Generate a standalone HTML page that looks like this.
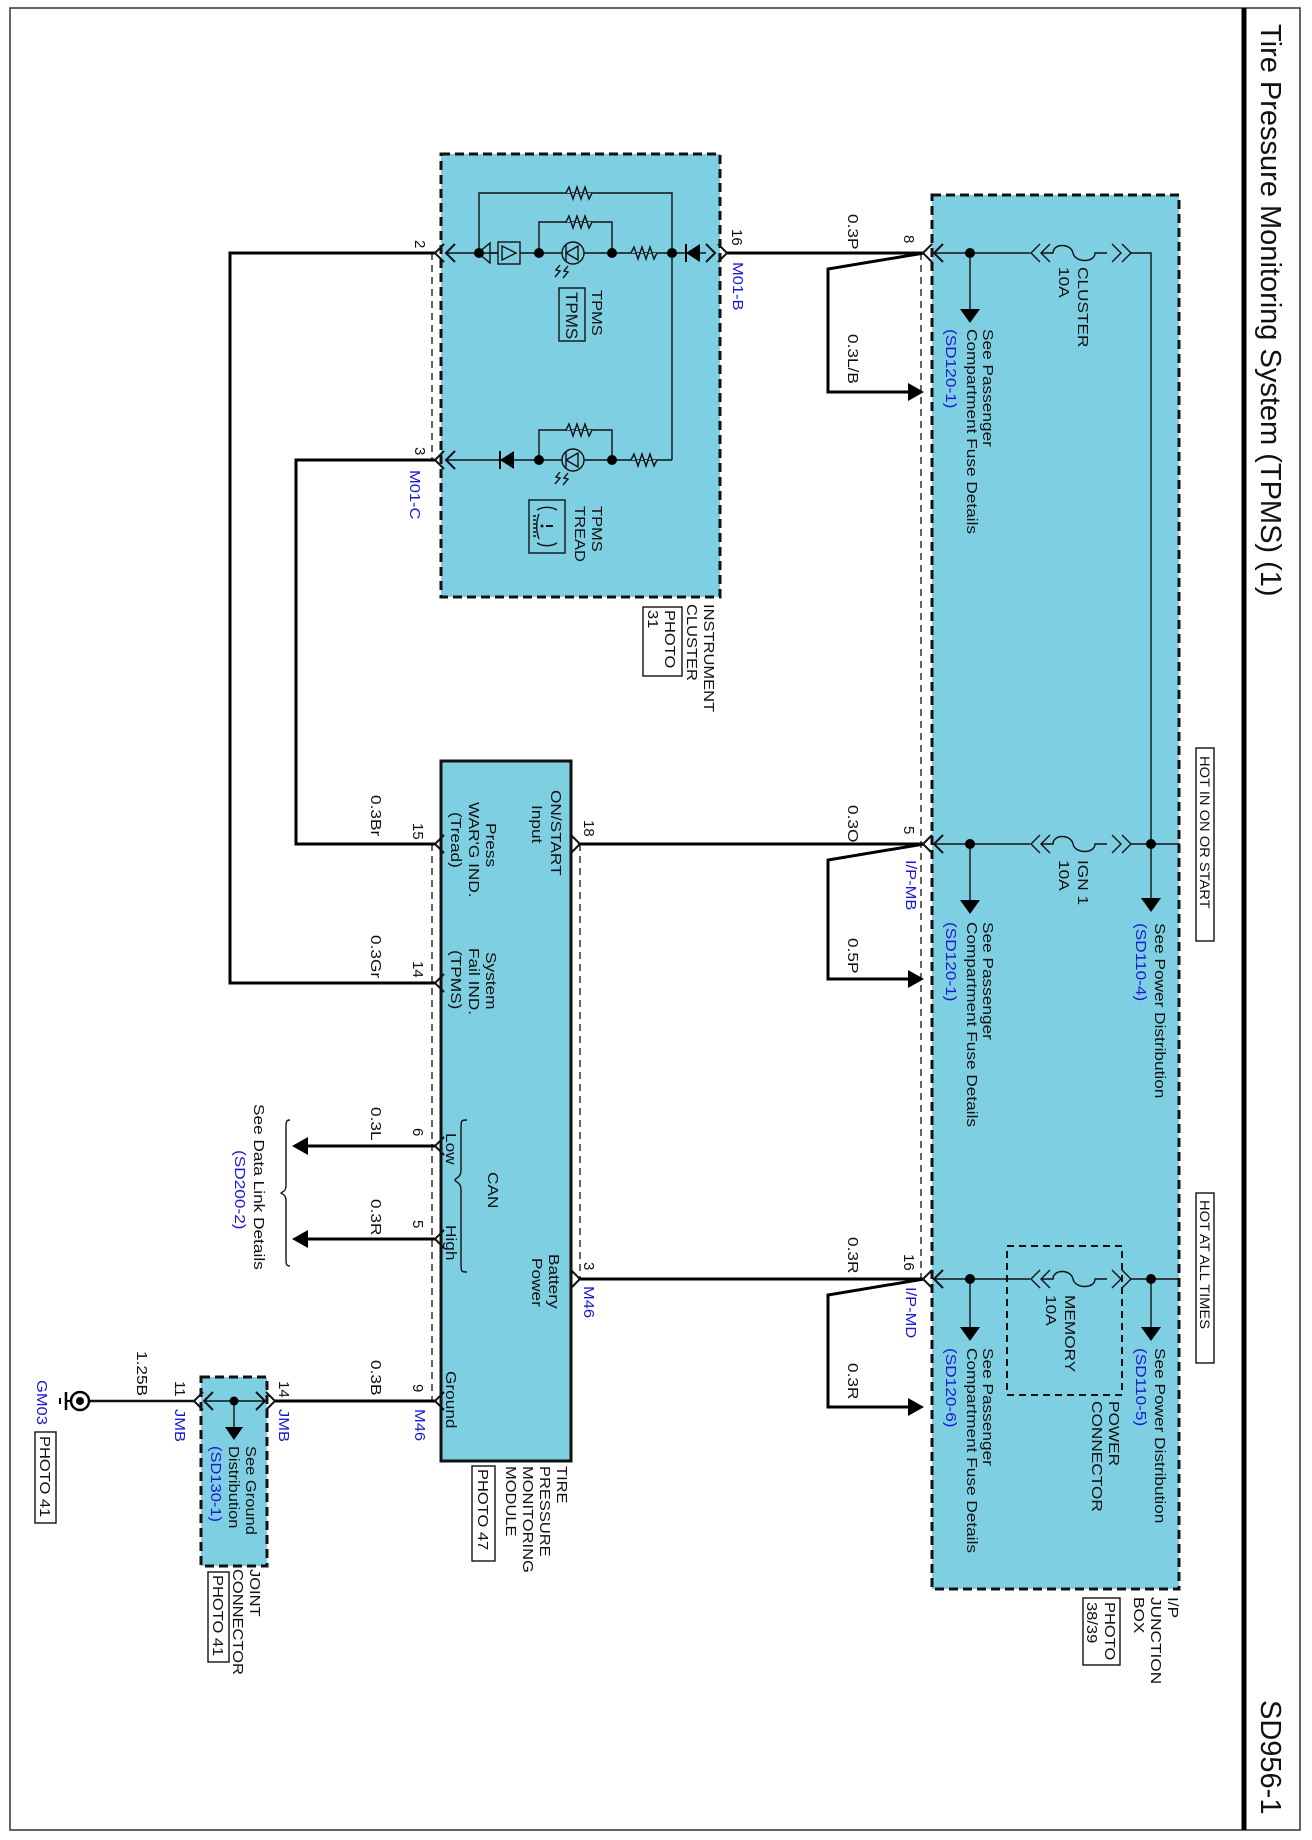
<!DOCTYPE html>
<html><head><meta charset="utf-8"><style>
html,body{margin:0;padding:0;background:#fff}
svg{display:block}
text{font-family:"Liberation Sans",Arial,sans-serif;font-size:15px;fill:#111}
.b{fill:#1a1ad0}
.w{stroke:#000;stroke-width:3;fill:none}
.t{stroke:#111;stroke-width:1.4;fill:none}
.d{stroke:#111;stroke-width:1.3;fill:none;stroke-dasharray:7,5}
.box{fill:#7fcfe3;stroke:#111;stroke-width:3;stroke-dasharray:9,5}
</style></head><body>
<svg width="1312" height="1840" viewBox="0 0 1312 1840" xmlns="http://www.w3.org/2000/svg">
<rect x="10" y="8" width="1290" height="1822" fill="none" stroke="#333" stroke-width="1.5"/>
<line x1="1244" y1="8" x2="1244" y2="1830" stroke="#000" stroke-width="5"/>
<text style="font-size:29px" transform="translate(1261,24) rotate(90)">Tire Pressure Monitoring System (TPMS) (1)</text>
<text style="font-size:29px" transform="translate(1261,1700) rotate(90)">SD956-1</text>

<!-- boxes -->
<rect class="box" x="441" y="154" width="279" height="443"/>
<rect class="box" x="932" y="195" width="247" height="1394"/>
<rect class="box" x="201" y="1377" width="66" height="189"/>
<rect x="441" y="761" width="130" height="700" fill="#7fcfe3" stroke="#111" stroke-width="3"/>
<rect x="1007" y="1246" width="115" height="149" fill="none" stroke="#111" stroke-width="2" stroke-dasharray="7,5"/>

<!-- dashed connector housings -->
<line class="d" x1="921" y1="253" x2="921" y2="1280"/>
<line class="d" x1="432" y1="253" x2="432" y2="460"/>
<line class="d" x1="432" y1="844" x2="432" y2="1402"/>
<line class="d" x1="580" y1="844" x2="580" y2="1279"/>

<!-- main wires -->
<polyline class="w" points="727,253 924,253"/>
<polyline class="w" points="435,253 230,253 230,983 435,983"/>
<polyline class="w" points="435,460 296,460 296,844 435,844"/>
<polyline class="w" points="578,844 924,844"/>
<polyline class="w" points="578,1279 924,1279"/>
<polyline class="w" points="924,253 828,269 828,392 910,392"/>
<polygon points="908,383 924,392 908,401" fill="#000"/>
<polyline class="w" points="924,844 828,860 828,979 910,979"/>
<polygon points="908,970 924,979 908,988" fill="#000"/>
<polyline class="w" points="924,1279 828,1295 828,1407 910,1407"/>
<polygon points="908,1398 924,1407 908,1416" fill="#000"/>
<polyline class="w" points="435,1146 306,1146"/>
<polygon points="308,1137 292,1146 308,1155" fill="#000"/>
<polyline class="w" points="435,1239 306,1239"/>
<polygon points="308,1230 292,1239 308,1248" fill="#000"/>
<polyline class="w" points="435,1401 275,1401"/>
<polyline class="t" points="194,1401 90,1401" style="stroke-width:2.5"/>

<!-- connector chevrons -->
<g class="t" style="stroke-width:2">
<polyline points="932,244 923,253 932,262"/><polyline points="943,244 934,253 943,262"/>
<polyline points="932,835 923,844 932,853"/><polyline points="943,835 934,844 943,853"/>
<polyline points="932,1270 923,1279 932,1288"/><polyline points="943,1270 934,1279 943,1288"/>
<polyline points="718,244 727,253 718,262"/><polyline points="706,244 715,253 706,262"/>
<polyline points="444,244 435,253 444,262"/><polyline points="455,244 446,253 455,262"/>
<polyline points="444,451 435,460 444,469"/><polyline points="455,451 446,460 455,469"/>
<polyline points="444,835 435,844 444,853"/>
<polyline points="444,974 435,983 444,992"/>
<polyline points="444,1137 435,1146 444,1155"/>
<polyline points="444,1230 435,1239 444,1248"/>
<polyline points="444,1392 435,1401 444,1410"/>
<polyline points="571,835 580,844 571,853"/>
<polyline points="571,1270 580,1279 571,1288"/>
<polyline points="266,1392 275,1401 266,1410"/><polyline points="256,1392 265,1401 256,1410"/>
<polyline points="203,1392 194,1401 203,1410"/><polyline points="213,1392 204,1401 213,1410"/>
</g>

<!-- IP box internal -->
<g class="t">
<line x1="934" y1="253" x2="1030" y2="253"/>
<path d="M1040,244 l-9,9 9,9 M1050,244 l-9,9 9,9"/>
<path d="M1041,253 h12 c0,-10 18,-10 20,0 c2,10 22,10 22,0 h12"/>
<path d="M1112,244 l9,9 -9,9 M1122,244 l9,9 -9,9"/>
<polyline points="1131,253 1151,253 1151,900"/>
<line x1="934" y1="844" x2="1030" y2="844"/>
<path d="M1040,835 l-9,9 9,9 M1050,835 l-9,9 9,9"/>
<path d="M1041,844 h12 c0,-10 18,-10 20,0 c2,10 22,10 22,0 h12"/>
<path d="M1112,835 l9,9 -9,9 M1122,835 l9,9 -9,9"/>
<line x1="1131" y1="844" x2="1180" y2="844"/>
<line x1="934" y1="1279" x2="1030" y2="1279"/>
<path d="M1040,1270 l-9,9 9,9 M1050,1270 l-9,9 9,9"/>
<path d="M1041,1279 h12 c0,-10 18,-10 20,0 c2,10 22,10 22,0 h12"/>
<path d="M1112,1270 l9,9 -9,9 M1122,1270 l9,9 -9,9"/>
<line x1="1131" y1="1279" x2="1180" y2="1279"/>
<line x1="970" y1="253" x2="970" y2="312"/>
<line x1="970" y1="844" x2="970" y2="903"/>
<line x1="970" y1="1279" x2="970" y2="1330"/>
<line x1="1151" y1="1279" x2="1151" y2="1330"/>
</g>
<g fill="#000">
<circle cx="970" cy="253" r="5"/><circle cx="970" cy="844" r="5"/><circle cx="970" cy="1279" r="5"/>
<circle cx="1151" cy="844" r="5"/><circle cx="1151" cy="1279" r="5"/>
<polygon points="960,309 980,309 970,323"/><polygon points="960,900 980,900 970,914"/>
<polygon points="960,1327 980,1327 970,1341"/><polygon points="1141,898 1161,898 1151,912"/>
<polygon points="1141,1327 1161,1327 1151,1341"/>
</g>

<!-- cluster internals -->
<g class="t">
<line x1="446" y1="253" x2="706" y2="253"/>
<polyline points="479,253 479,193 672,193 672,460"/>
<polyline points="539,253 539,222 612,222 612,253"/>
<line x1="446" y1="460" x2="672" y2="460"/>
<polyline points="539,460 539,430 612,430 612,460"/>
<path d="M566,193 l3,-6 4,12 4,-12 4,12 4,-12 4,12 3,-6" fill="#7fcfe3"/>
<path d="M566,222 l3,-6 4,12 4,-12 4,12 4,-12 4,12 3,-6" fill="#7fcfe3"/>
<path d="M566,430 l3,-6 4,12 4,-12 4,12 4,-12 4,12 3,-6" fill="#7fcfe3"/>
<path d="M631,253 l3,-6 4,12 4,-12 4,12 4,-12 4,12 3,-6" fill="#7fcfe3"/>
<path d="M631,460 l3,-6 4,12 4,-12 4,12 4,-12 4,12 3,-6" fill="#7fcfe3"/>
<circle cx="573" cy="253" r="11" fill="#7fcfe3"/>
<circle cx="573" cy="460" r="11" fill="#7fcfe3"/>
<path d="M566,245 v16 M566,253 l12,-7 v14 z M566,452 v16 M566,460 l12,-7 v14 z"/>
<path d="M560,265 l-4,5 4,1 -5,6 M568,266 l-4,5 4,1 -5,6 M560,472 l-4,5 4,1 -5,6 M568,473 l-4,5 4,1 -5,6"/>
<rect x="498" y="242" width="22" height="22" fill="#7fcfe3"/>
<path d="M502,246 l14,7 -14,7 z"/>
<path d="M498,253 h-8 M490,243 v20 l-12,-10 z"/>
<rect x="559" y="288" width="26" height="53"/>
<rect x="529" y="500" width="36" height="53"/>
<path d="M557,510 a20,20 0 0 0 -20,0 M537,543 a20,20 0 0 0 20,0"/>
<path d="M539,514 c-3,8 -3,17 0,25"/>
<path d="M536,516 h-3 M536,520 h-3 M536,524 h-3 M536,528 h-3 M536,532 h-3 M536,536 h-3"/>
<path d="M553,526 h-7" style="stroke-width:2"/>
</g>
<circle cx="542" cy="526" r="1.5" fill="#111"/>
<g fill="#000">
<circle cx="479" cy="253" r="5"/><circle cx="539" cy="253" r="5"/><circle cx="612" cy="253" r="5"/><circle cx="672" cy="253" r="5"/>
<circle cx="539" cy="460" r="5"/><circle cx="612" cy="460" r="5"/>
<polygon points="686,253 700,244 700,262"/><rect x="685" y="244" width="2" height="18"/>
<polygon points="500,460 514,451 514,469"/><rect x="499" y="451" width="2" height="18"/>
</g>

<!-- module brace and CAN brace -->
<path class="t" d="M467,1120 c-6,0 -6,0 -6,10 v40 c0,8 -6,8 -6,10 c0,2 6,2 6,10 v72 c0,10 0,10 6,10"/>
<path class="t" d="M290,1120 c-4,0 -4,2 -4,8 v58 c0,6 -5,6 -5,7 c0,1 5,1 5,7 v58 c0,6 0,8 4,8"/>

<!-- joint & ground -->
<g class="t">
<line x1="204" y1="1401" x2="265" y2="1401"/>
<line x1="234" y1="1401" x2="234" y2="1428"/>
</g>
<circle cx="234" cy="1401" r="4.5"/>
<polygon points="225,1427 243,1427 234,1440" fill="#000"/>
<circle cx="80" cy="1401" r="9" fill="#fff" stroke="#000" stroke-width="2.5"/>
<circle cx="80" cy="1401" r="4" fill="#000"/>
<line x1="66" y1="1392" x2="66" y2="1410" stroke="#000" stroke-width="2.5"/>
<line x1="60" y1="1398" x2="60" y2="1404" stroke="#000" stroke-width="2"/>
<line x1="70" y1="1401" x2="66" y2="1401" stroke="#000" stroke-width="2"/>

<!-- label boxes -->
<g fill="none" stroke="#111" stroke-width="1.4">
<rect x="1196" y="748" width="18" height="193"/>
<rect x="1196" y="1193" width="18" height="170"/>
<rect x="1083" y="1598" width="37" height="67"/>
<rect x="643" y="607" width="39" height="69"/>
<rect x="472" y="1466" width="23" height="95"/>
<rect x="208" y="1572" width="21" height="90"/>
<rect x="35" y="1432" width="21" height="91"/>
</g>

<!-- texts -->
<g>
<text transform="translate(1200,756) rotate(90) scale(1.05,1)" style="font-size:14px">HOT IN ON OR START</text>
<text transform="translate(1200,1200) rotate(90) scale(1.05,1)" style="font-size:14px">HOT AT ALL TIMES</text>
<text transform="translate(1078,267) rotate(90) scale(1.15,1)">CLUSTER</text>
<text transform="translate(1059,267) rotate(90) scale(1.15,1)">10A</text>
<text transform="translate(1078,860) rotate(90) scale(1.15,1)">IGN 1</text>
<text transform="translate(1059,860) rotate(90) scale(1.15,1)">10A</text>
<text transform="translate(1065,1295) rotate(90) scale(1.15,1)">MEMORY</text>
<text transform="translate(1046,1295) rotate(90) scale(1.15,1)">10A</text>
<text transform="translate(1109,1401) rotate(90) scale(1.15,1)">POWER</text>
<text transform="translate(1092,1401) rotate(90) scale(1.15,1)">CONNECTOR</text>
<text transform="translate(983,329) rotate(90) scale(1.15,1)">See Passenger</text>
<text transform="translate(967,329) rotate(90) scale(1.15,1)">Compartment Fuse Details</text>
<text class="b" transform="translate(946,329) rotate(90) scale(1.15,1)">(SD120-1)</text>
<text transform="translate(983,922) rotate(90) scale(1.15,1)">See Passenger</text>
<text transform="translate(967,922) rotate(90) scale(1.15,1)">Compartment Fuse Details</text>
<text class="b" transform="translate(946,922) rotate(90) scale(1.15,1)">(SD120-1)</text>
<text transform="translate(983,1348) rotate(90) scale(1.15,1)">See Passenger</text>
<text transform="translate(967,1348) rotate(90) scale(1.15,1)">Compartment Fuse Details</text>
<text class="b" transform="translate(946,1348) rotate(90) scale(1.15,1)">(SD120-6)</text>
<text transform="translate(1155,923) rotate(90) scale(1.15,1)">See Power Distribution</text>
<text class="b" transform="translate(1136,923) rotate(90) scale(1.15,1)">(SD110-4)</text>
<text transform="translate(1155,1348) rotate(90) scale(1.15,1)">See Power Distribution</text>
<text class="b" transform="translate(1136,1348) rotate(90) scale(1.15,1)">(SD110-5)</text>
<text transform="translate(1168,1597) rotate(90) scale(1.15,1)">I/P</text>
<text transform="translate(1151,1597) rotate(90) scale(1.15,1)">JUNCTION</text>
<text transform="translate(1134,1597) rotate(90) scale(1.15,1)">BOX</text>
<text transform="translate(1105,1602) rotate(90) scale(1.1,1)">PHOTO</text>
<text transform="translate(1087,1602) rotate(90) scale(1.1,1)">38/39</text>

<text transform="translate(904,235) rotate(90)">8</text>
<text transform="translate(904,826) rotate(90)">5</text>
<text transform="translate(904,1254) rotate(90)">16</text>
<text class="b" transform="translate(906,860) rotate(90) scale(1.1,1)">I/P-MB</text>
<text class="b" transform="translate(906,1287) rotate(90) scale(1.1,1)">I/P-MD</text>
<text transform="translate(848,214) rotate(90) scale(1.15,1)">0.3P</text>
<text transform="translate(848,334) rotate(90) scale(1.15,1)">0.3L/B</text>
<text transform="translate(848,805) rotate(90) scale(1.15,1)">0.3O</text>
<text transform="translate(848,938) rotate(90) scale(1.15,1)">0.5P</text>
<text transform="translate(848,1237) rotate(90) scale(1.15,1)">0.3R</text>
<text transform="translate(848,1363) rotate(90) scale(1.15,1)">0.3R</text>

<text transform="translate(732,229) rotate(90)">16</text>
<text class="b" transform="translate(733,262) rotate(90) scale(1.1,1)">M01-B</text>
<text transform="translate(415,240) rotate(90)">2</text>
<text transform="translate(415,447) rotate(90)">3</text>
<text class="b" transform="translate(410,470) rotate(90) scale(1.1,1)">M01-C</text>
<text transform="translate(592,290) rotate(90) scale(1.1,1)">TPMS</text>
<text style="font-size:17px" transform="translate(566,292) rotate(90)">TPMS</text>
<text transform="translate(592,506) rotate(90) scale(1.1,1)">TPMS</text>
<text transform="translate(575,506) rotate(90) scale(1.1,1)">TREAD</text>
<text transform="translate(704,604) rotate(90) scale(1.1,1)">INSTRUMENT</text>
<text transform="translate(687,604) rotate(90) scale(1.1,1)">CLUSTER</text>
<text transform="translate(665,610) rotate(90) scale(1.1,1)">PHOTO</text>
<text transform="translate(648,610) rotate(90) scale(1.1,1)">31</text>

<text transform="translate(551,790) rotate(90) scale(1.15,1)">ON/START</text>
<text transform="translate(532,805) rotate(90) scale(1.15,1)">Input</text>
<text transform="translate(486,823) rotate(90) scale(1.15,1)">Press</text>
<text transform="translate(469,802) rotate(90) scale(1.15,1)">WAR'G IND.</text>
<text transform="translate(451,812) rotate(90) scale(1.15,1)">(Tread)</text>
<text transform="translate(486,952) rotate(90) scale(1.15,1)">System</text>
<text transform="translate(469,948) rotate(90) scale(1.15,1)">Fail IND.</text>
<text transform="translate(451,950) rotate(90) scale(1.15,1)">(TPMS)</text>
<text transform="translate(549,1254) rotate(90) scale(1.15,1)">Battery</text>
<text transform="translate(532,1258) rotate(90) scale(1.15,1)">Power</text>
<text transform="translate(446,1133) rotate(90) scale(1.15,1)">Low</text>
<text transform="translate(446,1225) rotate(90) scale(1.15,1)">High</text>
<text transform="translate(488,1172) rotate(90) scale(1.15,1)">CAN</text>
<text transform="translate(446,1371) rotate(90) scale(1.15,1)">Ground</text>
<text transform="translate(584,820) rotate(90)">18</text>
<text transform="translate(584,1262) rotate(90)">3</text>
<text class="b" transform="translate(584,1286) rotate(90) scale(1.1,1)">M46</text>
<text transform="translate(413,823) rotate(90)">15</text>
<text transform="translate(413,961) rotate(90)">14</text>
<text transform="translate(413,1128) rotate(90)">6</text>
<text transform="translate(413,1220) rotate(90)">5</text>
<text transform="translate(413,1384) rotate(90)">9</text>
<text class="b" transform="translate(415,1409) rotate(90) scale(1.1,1)">M46</text>
<text transform="translate(371,795) rotate(90) scale(1.15,1)">0.3Br</text>
<text transform="translate(371,935) rotate(90) scale(1.15,1)">0.3Gr</text>
<text transform="translate(371,1107) rotate(90) scale(1.15,1)">0.3L</text>
<text transform="translate(371,1199) rotate(90) scale(1.15,1)">0.3R</text>
<text transform="translate(371,1360) rotate(90) scale(1.15,1)">0.3B</text>
<text transform="translate(254,1104) rotate(90) scale(1.15,1)">See Data Link Details</text>
<text class="b" transform="translate(235,1150) rotate(90) scale(1.15,1)">(SD200-2)</text>
<text transform="translate(557,1466) rotate(90) scale(1.1,1)">TIRE</text>
<text transform="translate(540,1466) rotate(90) scale(1.1,1)">PRESSURE</text>
<text transform="translate(523,1466) rotate(90) scale(1.1,1)">MONITORING</text>
<text transform="translate(506,1466) rotate(90) scale(1.1,1)">MODULE</text>
<text transform="translate(478,1469) rotate(90) scale(1.1,1)">PHOTO 47</text>

<text transform="translate(279,1381) rotate(90)">14</text>
<text class="b" transform="translate(279,1409) rotate(90) scale(1.1,1)">JMB</text>
<text transform="translate(175,1381) rotate(90)">11</text>
<text class="b" transform="translate(175,1409) rotate(90) scale(1.1,1)">JMB</text>
<text transform="translate(246,1446) rotate(90) scale(1.1,1)">See Ground</text>
<text transform="translate(229,1446) rotate(90) scale(1.1,1)">Distribution</text>
<text class="b" transform="translate(211,1446) rotate(90) scale(1.1,1)">(SD130-1)</text>
<text transform="translate(250,1569) rotate(90) scale(1.1,1)">JOINT</text>
<text transform="translate(233,1569) rotate(90) scale(1.1,1)">CONNECTOR</text>
<text transform="translate(213,1575) rotate(90) scale(1.1,1)">PHOTO 41</text>
<text transform="translate(137,1351) rotate(90) scale(1.15,1)">1.25B</text>
<text class="b" transform="translate(37,1380) rotate(90) scale(1.1,1)">GM03</text>
<text transform="translate(40,1436) rotate(90) scale(1.1,1)">PHOTO 41</text>
</g>
</svg>
</body></html>
